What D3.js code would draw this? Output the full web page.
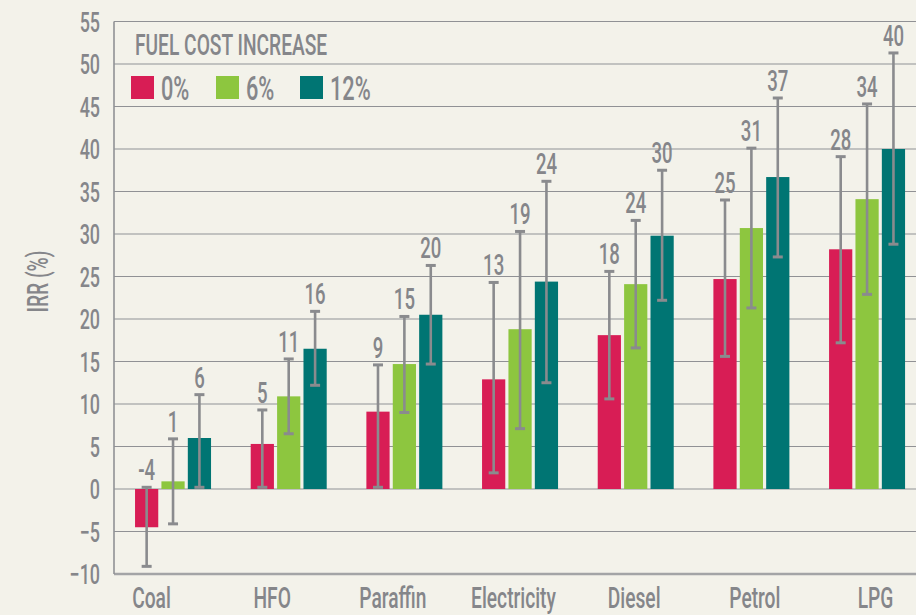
<!DOCTYPE html>
<html>
<head>
<meta charset="utf-8">
<script src="https://cdn.jsdelivr.net/npm/d3@7"></script>
<style>
  html, body { margin: 0; padding: 0; background: #f3f2ea; }
  svg { display: block; }
  text { font-family: Roboto, "Liberation Sans", sans-serif; font-weight: 500; fill: #85868a; }
</style>
</head>
<body>
<svg id="chart" width="916" height="615"></svg>
<script>
// ---- data ----
const categories = ["Coal", "HFO", "Paraffin", "Electricity", "Diesel", "Petrol", "LPG"];
const seriesNames = ["0%", "6%", "12%"];
const seriesColors = ["#d81d55", "#8dc63f", "#007573"];

const irr0  = [-4.5, 5.3, 9.1, 12.9, 18.1, 24.7, 28.2];
const irr6  = [0.9, 10.9, 14.7, 18.8, 24.1, 30.7, 34.1];
const irr12 = [6.0, 16.5, 20.5, 24.4, 29.8, 36.7, 40.0];

const label0  = [-4, 5, 9, 13, 18, 25, 28];
const label6  = [1, 11, 15, 19, 24, 31, 34];
const label12 = [6, 16, 20, 24, 30, 37, 40];

const low0   = [-9.1, 0.2, 0.2, 1.9, 10.6, 15.6, 17.2];
const high0  = [0.2, 9.3, 14.6, 24.3, 25.6, 34.0, 39.1];
const low6   = [-4.1, 6.5, 9.0, 7.1, 16.6, 21.3, 22.9];
const high6  = [5.9, 15.3, 20.3, 30.3, 31.6, 40.1, 45.3];
const low12  = [0.2, 12.2, 14.7, 12.5, 22.2, 27.3, 28.8];
const high12 = [11.1, 20.9, 26.3, 36.2, 37.5, 46.0, 51.3];

const yTicks = [-10, -5, 0, 5, 10, 15, 20, 25, 30, 35, 40, 45, 50, 55];
const legendTitle = "FUEL COST INCREASE";
const yTitle = "IRR (%)";

// ---- build table ----
const values = [irr0, irr6, irr12];
const labels = [label0, label6, label12];
const lows = [low0, low6, low12];
const highs = [high0, high6, high12];
const rows = [];
categories.forEach((c, i) => {
  seriesNames.forEach((s, j) => {
    rows.push({cat: c, series: s, color: seriesColors[j], value: values[j][i],
               label: labels[j][i], low: lows[j][i], high: highs[j][i]});
  });
});

// ---- layout ----
const K = 0.64; // horizontal condensing of text
const svg = d3.select("#chart");
const W = 916, H = 615;
const axisX = 114;

const y = d3.scaleLinear().domain([-10, 55]).range([574, 21.5]);
const x0 = d3.scaleBand().domain(categories).range([115.2, 924.9])
  .paddingInner(0.343).paddingOuter(0.1715);
const x1 = d3.scaleBand().domain(seriesNames).range([0, x0.bandwidth()]).paddingInner(0.12);
const xLabel = d3.scalePoint().domain(categories).range([151, 875]);

// gridlines
svg.append("g").selectAll("line").data(yTicks.filter(t => t > -10)).join("line")
  .attr("x1", axisX).attr("x2", W)
  .attr("y1", d => y(d)).attr("y2", d => y(d))
  .attr("stroke", "#909195").attr("stroke-width", 1.2);

// bottom line
svg.append("line").attr("x1", axisX).attr("x2", W)
  .attr("y1", y(-10)).attr("y2", y(-10))
  .attr("stroke", "#a3a4a6").attr("stroke-width", 2.4);

// bars
svg.append("g").selectAll("rect").data(rows).join("rect")
  .attr("x", d => x0(d.cat) + x1(d.series))
  .attr("width", x1.bandwidth())
  .attr("y", d => y(Math.max(0, d.value)))
  .attr("height", d => Math.abs(y(d.value) - y(0)))
  .attr("fill", d => d.color);

// error bars
const eb = svg.append("g").attr("stroke", "#8a8b8e");
const cx = d => x0(d.cat) + x1(d.series) + x1.bandwidth() / 2;
eb.selectAll("line.w").data(rows).join("line").attr("class", "w")
  .attr("x1", cx).attr("x2", cx)
  .attr("y1", d => y(d.low)).attr("y2", d => y(d.high))
  .attr("stroke-width", 2.6);
eb.selectAll("line.ct").data(rows).join("line").attr("class", "ct")
  .attr("x1", d => cx(d) - 5).attr("x2", d => cx(d) + 5)
  .attr("y1", d => y(d.high)).attr("y2", d => y(d.high))
  .attr("stroke-width", 3);
eb.selectAll("line.cb").data(rows).join("line").attr("class", "cb")
  .attr("x1", d => cx(d) - 5).attr("x2", d => cx(d) + 5)
  .attr("y1", d => y(d.low)).attr("y2", d => y(d.low))
  .attr("stroke-width", 3);

// value labels
svg.append("g").selectAll("text").data(rows).join("text")
  .attr("text-anchor", "middle")
  .attr("font-size", 29)
  .attr("transform", d => `translate(${cx(d)},${y(d.high) - 7}) scale(${K},1)`)
  .text(d => d.label);

// y axis
const yAxis = svg.append("g").attr("transform", `translate(${axisX},0)`)
  .call(d3.axisLeft(y).tickValues(yTicks).tickSize(0).tickPadding(14).tickFormat(d3.format("d")));
yAxis.select(".domain").remove();
yAxis.selectAll("text")
  .attr("font-size", 28).attr("font-family", null).attr("fill", null)
  .attr("x", -14 / K).attr("dy", "0.355em")
  .attr("transform", `scale(${K},1)`);
yAxis.attr("font-family", null).attr("font-size", null);

svg.append("line").attr("x1", axisX).attr("x2", axisX)
  .attr("y1", y(55)).attr("y2", y(-10))
  .attr("stroke", "#909195").attr("stroke-width", 1.6);

// x axis (category labels)
const xAxis = svg.append("g").attr("transform", `translate(0,${y(-10)})`)
  .call(d3.axisBottom(xLabel).tickSize(0));
xAxis.select(".domain").remove();
xAxis.attr("font-family", null).attr("font-size", null);
xAxis.selectAll("text")
  .attr("font-size", 30).attr("fill", null)
  .attr("y", 0).attr("dy", 0)
  .attr("transform", `translate(0,${608 - y(-10)}) scale(${K},1)`);

// y title
svg.append("text")
  .attr("text-anchor", "middle")
  .attr("font-size", 30)
  .attr("transform", `translate(48,281.5) rotate(-90) scale(${K},1)`)
  .text(yTitle);

// legend
const lg = svg.append("g");
lg.append("text").attr("font-size", 30)
  .attr("transform", `translate(135,55) scale(${K},1)`)
  .text(legendTitle);
const legendX = [131, 216, 300];
seriesNames.forEach((s, j) => {
  lg.append("rect").attr("x", legendX[j]).attr("y", 76).attr("width", 23).attr("height", 23)
    .attr("fill", seriesColors[j]);
  lg.append("text").attr("font-size", 34)
    .attr("transform", `translate(${legendX[j] + 30},100) scale(${K},1)`)
    .text(s);
});
</script>
</body>
</html>
